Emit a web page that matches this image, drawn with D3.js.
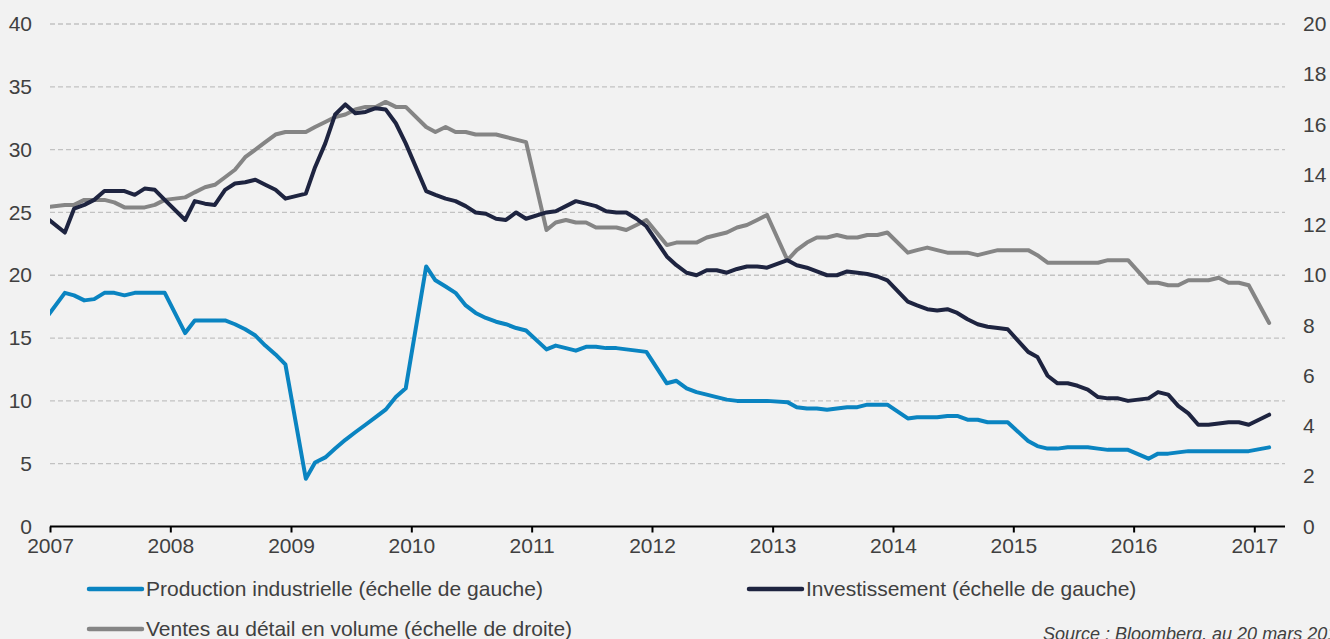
<!DOCTYPE html>
<html>
<head>
<meta charset="utf-8">
<script src="https://cdn.jsdelivr.net/npm/d3@7"></script>
<style>
  html, body { margin: 0; padding: 0; background: #f2f2f2; overflow: hidden; }
  svg { display: block; font-family: "Liberation Sans", Arial, sans-serif; }
</style>
</head>
<body>
<div id="chart"></div>
<script>
// Monthly data, January is folded into February (Jan-Feb combined)
const years = [2007, 2008, 2009, 2010, 2011, 2012, 2013, 2014, 2015, 2016];
const monthsInYear = [2, 3, 4, 5, 6, 7, 8, 9, 10, 11, 12];

// Production industrielle (left scale) : Dec 2006, then Feb..Dec per year, then Feb 2017
const production = [16.4,
  18.6, 18.4, 18.0, 18.1, 18.6, 18.6, 18.4, 18.6, 18.6, 18.6, 18.6,
  15.4, 16.4, 16.4, 16.4, 16.4, 16.1, 15.7, 15.2, 14.4, 13.7, 12.9,
  3.8, 5.1, 5.5, 6.2, 6.9, 7.5, 8.1, 8.7, 9.3, 10.3, 11.0,
  20.7, 19.6, 19.1, 18.6, 17.6, 17.0, 16.6, 16.3, 16.1, 15.8, 15.6,
  14.1, 14.4, 14.2, 14.0, 14.3, 14.3, 14.2, 14.2, 14.1, 14.0, 13.9,
  11.4, 11.6, 11.0, 10.7, 10.5, 10.3, 10.1, 10.0, 10.0, 10.0, 10.0,
  9.9, 9.5, 9.4, 9.4, 9.3, 9.4, 9.5, 9.5, 9.7, 9.7, 9.7,
  8.6, 8.7, 8.7, 8.7, 8.8, 8.8, 8.5, 8.5, 8.3, 8.3, 8.3,
  6.8, 6.4, 6.2, 6.2, 6.3, 6.3, 6.3, 6.2, 6.1, 6.1, 6.1,
  5.4, 5.8, 5.8, 5.9, 6.0, 6.0, 6.0, 6.0, 6.0, 6.0, 6.0,
  6.3];

// Investissement (left scale)
const investissement = [24.7,
  23.4, 25.3, 25.6, 26.0, 26.7, 26.7, 26.7, 26.4, 26.9, 26.8, 26.0,
  24.4, 25.9, 25.7, 25.6, 26.8, 27.3, 27.4, 27.6, 27.2, 26.8, 26.1,
  26.5, 28.6, 30.5, 32.8, 33.6, 32.9, 33.0, 33.3, 33.2, 32.1, 30.5,
  26.7, 26.4, 26.1, 25.9, 25.5, 25.0, 24.9, 24.5, 24.4, 25.0, 24.5,
  25.0, 25.1, 25.5, 25.9, 25.7, 25.5, 25.1, 25.0, 25.0, 24.5, 23.9,
  21.5, 20.8, 20.2, 20.0, 20.4, 20.4, 20.2, 20.5, 20.7, 20.7, 20.6,
  21.2, 20.8, 20.6, 20.3, 20.0, 20.0, 20.3, 20.2, 20.1, 19.9, 19.6,
  17.9, 17.6, 17.3, 17.2, 17.3, 17.0, 16.5, 16.1, 15.9, 15.8, 15.7,
  13.9, 13.5, 12.0, 11.4, 11.4, 11.2, 10.9, 10.3, 10.2, 10.2, 10.0,
  10.2, 10.7, 10.5, 9.6, 9.0, 8.1, 8.1, 8.2, 8.3, 8.3, 8.1,
  8.9];

// Ventes au détail en volume (right scale)
const ventes = [12.7,
  12.8, 12.8, 13.0, 13.0, 13.0, 12.9, 12.7, 12.7, 12.7, 12.8, 13.0,
  13.1, 13.3, 13.5, 13.6, 13.9, 14.2, 14.7, 15.0, 15.3, 15.6, 15.7,
  15.7, 15.9, 16.1, 16.3, 16.4, 16.6, 16.7, 16.7, 16.9, 16.7, 16.7,
  15.9, 15.7, 15.9, 15.7, 15.7, 15.6, 15.6, 15.6, 15.5, 15.4, 15.3,
  11.8, 12.1, 12.2, 12.1, 12.1, 11.9, 11.9, 11.9, 11.8, 12.0, 12.2,
  11.2, 11.3, 11.3, 11.3, 11.5, 11.6, 11.7, 11.9, 12.0, 12.2, 12.4,
  10.6, 11.0, 11.3, 11.5, 11.5, 11.6, 11.5, 11.5, 11.6, 11.6, 11.7,
  10.9, 11.0, 11.1, 11.0, 10.9, 10.9, 10.9, 10.8, 10.9, 11.0, 11.0,
  11.0, 10.8, 10.5, 10.5, 10.5, 10.5, 10.5, 10.5, 10.6, 10.6, 10.6,
  9.7, 9.7, 9.6, 9.6, 9.8, 9.8, 9.8, 9.9, 9.7, 9.7, 9.6,
  8.1];

const leftTicks = [0, 5, 10, 15, 20, 25, 30, 35, 40];
const rightTicks = [0, 2, 4, 6, 8, 10, 12, 14, 16, 18, 20];
const xTickYears = [2007, 2008, 2009, 2010, 2011, 2012, 2013, 2014, 2015, 2016, 2017];

const legendItems = [
  { label: 'Production industrielle (échelle de gauche)', color: '#0a84c1' },
  { label: 'Investissement (échelle de gauche)', color: '#1e2440' },
  { label: 'Ventes au détail en volume (échelle de droite)', color: '#858585' }
];
const sourceText = 'Source : Bloomberg, au 20 mars 2017';

// dates at mid-month
const dates = [new Date(2006, 11, 15)];
years.forEach(y => monthsInYear.forEach(m => dates.push(new Date(y, m - 1, 15))));
dates.push(new Date(2017, 1, 15));

const width = 1330, height = 639;
const plot = { left: 50, right: 1285, top: 24, bottom: 526.5 };
const textColor = '#404040';
const fontFamily = '"Liberation Sans", Arial, sans-serif';

const svg = d3.select('#chart').append('svg')
  .attr('width', width)
  .attr('height', height);

svg.append('rect').attr('width', width).attr('height', height).attr('fill', '#f2f2f2');

const x = d3.scaleTime()
  .domain([new Date(2007, 0, 1), new Date(2017, 0, 1)])
  .range([plot.left, 1254.3]);

const yLeft = d3.scaleLinear().domain([0, 40]).range([plot.bottom, plot.top]);
const yRight = d3.scaleLinear().domain([0, 20]).range([plot.bottom, plot.top]);

// grid
svg.append('g')
  .selectAll('line')
  .data(leftTicks.filter(d => d > 0))
  .enter()
  .append('line')
  .attr('x1', plot.left)
  .attr('x2', plot.right)
  .attr('y1', d => yLeft(d))
  .attr('y2', d => yLeft(d))
  .attr('stroke', '#c2c2c2')
  .attr('stroke-width', 1.3)
  .attr('stroke-dasharray', '5,3');

// left axis labels
const leftAxis = svg.append('g')
  .attr('transform', `translate(${plot.left},0)`)
  .call(d3.axisLeft(yLeft).tickValues(leftTicks).tickSize(0).tickPadding(18));
leftAxis.select('.domain').remove();
leftAxis.selectAll('text')
  .style('font-size', '21px')
  .style('font-family', fontFamily)
  .attr('fill', textColor);

// right axis labels
const rightAxis = svg.append('g')
  .attr('transform', `translate(${plot.right},0)`)
  .call(d3.axisRight(yRight).tickValues(rightTicks).tickSize(0).tickPadding(18));
rightAxis.select('.domain').remove();
rightAxis.selectAll('text')
  .style('font-size', '21px')
  .style('font-family', fontFamily)
  .attr('fill', textColor);

// clip
svg.append('clipPath').attr('id', 'clip')
  .append('rect')
  .attr('x', plot.left)
  .attr('y', 0)
  .attr('width', plot.right - plot.left)
  .attr('height', plot.bottom + 5);

const lines = svg.append('g').attr('clip-path', 'url(#clip)');

const series = [
  { values: ventes, scale: yRight, color: legendItems[2].color },
  { values: investissement, scale: yLeft, color: legendItems[1].color },
  { values: production, scale: yLeft, color: legendItems[0].color }
];

series.forEach(s => {
  const line = d3.line()
    .x((d, i) => x(dates[i]))
    .y(d => s.scale(d));
  lines.append('path')
    .datum(s.values)
    .attr('fill', 'none')
    .attr('stroke', s.color)
    .attr('stroke-width', 4)
    .attr('stroke-linejoin', 'round')
    .attr('stroke-linecap', 'round')
    .attr('d', line);
});

// x axis
const xAxis = svg.append('g')
  .attr('transform', `translate(0,${plot.bottom})`)
  .call(d3.axisBottom(x)
    .tickValues(xTickYears.map(y => new Date(y, 0, 1)))
    .tickFormat(d3.timeFormat('%Y'))
    .tickSize(6)
    .tickSizeOuter(0)
    .tickPadding(6));
xAxis.select('.domain')
  .attr('d', `M${plot.left},0H${plot.right}`)
  .attr('stroke', '#000')
  .attr('stroke-width', 2);
xAxis.selectAll('.tick line').attr('stroke', '#000').attr('stroke-width', 2);
xAxis.selectAll('text')
  .style('font-size', '21px')
  .style('font-family', fontFamily)
  .attr('fill', textColor);

// legend
const legendPos = [
  { x: 88, y: 589 },
  { x: 748, y: 589 },
  { x: 88, y: 629 }
];
legendItems.forEach((item, i) => {
  const g = svg.append('g').attr('transform', `translate(${legendPos[i].x},${legendPos[i].y})`);
  g.append('line')
    .attr('x1', 1).attr('x2', 54)
    .attr('y1', 0).attr('y2', 0)
    .attr('stroke', item.color)
    .attr('stroke-width', 4.5)
    .attr('stroke-linecap', 'round');
  g.append('text')
    .attr('x', 58)
    .attr('y', 7)
    .style('font-size', '21px')
    .style('font-family', fontFamily)
    .attr('fill', textColor)
    .text(item.label);
});

svg.append('text')
  .attr('x', 1043)
  .attr('y', 640)
  .style('font-size', '18px')
  .style('font-style', 'italic')
  .style('font-family', fontFamily)
  .attr('fill', textColor)
  .text(sourceText);
</script>
</body>
</html>
